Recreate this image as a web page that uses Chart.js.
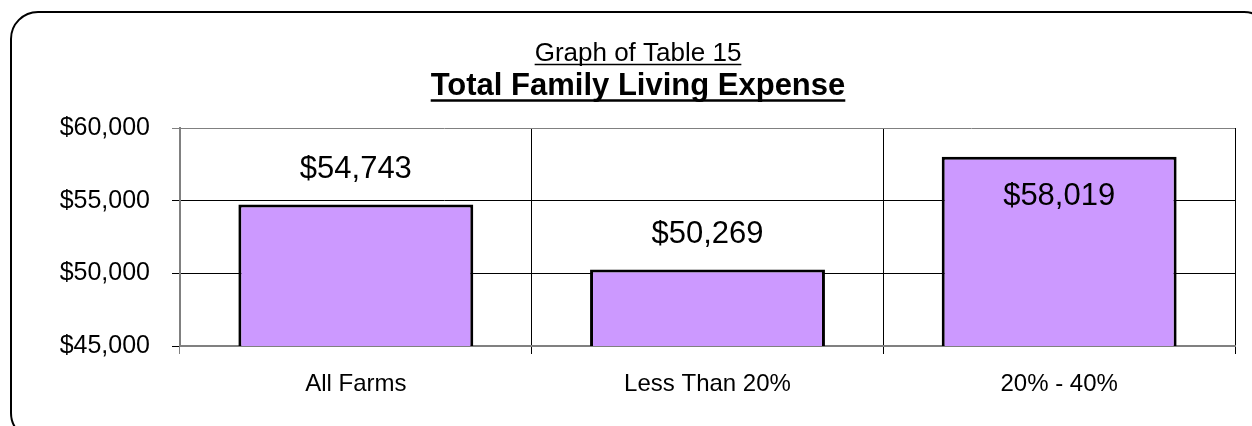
<!DOCTYPE html>
<html>
<head>
<meta charset="utf-8">
<script src="https://cdn.jsdelivr.net/npm/chart.js@4/dist/chart.umd.min.js"></script>
<style>
  html, body { margin: 0; padding: 0; background: #fff; overflow: hidden; }
  #wrap { position: relative; width: 1252px; height: 426px; }
  .frame {
    position: absolute; left: 10px; top: 11px; width: 1262px; height: 430px;
    border: 2px solid #000; border-radius: 28px; box-sizing: border-box;
  }
  canvas { position: absolute; left: 0; top: 0; }
</style>
</head>
<body>
<div id="wrap">
  <div class="frame"></div>
  <canvas id="chart" width="1252" height="426"></canvas>
</div>
<script>
// chart data
const categories = ["All Farms", "Less Than 20%", "20% - 40%"];
const livingExpense = [54743, 50269, 58019];
const yTicks = [45000, 50000, 55000, 60000];
const subTitle = "Graph of Table 15";
const mainTitle = "Total Family Living Expense";

const FONT = "'Liberation Sans', Arial, sans-serif";

function money(v) {
    return "$" + v.toLocaleString("en-US");
}

// titles with underline, like the Excel original
const titlePlugin = {
    id: "underlinedTitles",
    afterDraw(chart) {
        const ctx = chart.ctx;
        const cx = 638;
        ctx.save();
        ctx.fillStyle = "#000";
        ctx.strokeStyle = "#000";
        ctx.textAlign = "center";
        ctx.textBaseline = "alphabetic";

        ctx.font = "26px " + FONT;
        let w = ctx.measureText(subTitle).width;
        ctx.fillText(subTitle, cx, 61);
        ctx.lineWidth = 1.5;
        ctx.beginPath();
        ctx.moveTo(cx - w / 2, 64.5);
        ctx.lineTo(cx + w / 2, 64.5);
        ctx.stroke();

        ctx.font = "bold 31px " + FONT;
        w = ctx.measureText(mainTitle).width;
        ctx.fillText(mainTitle, cx, 95);
        ctx.lineWidth = 2.5;
        ctx.beginPath();
        ctx.moveTo(cx - w / 2, 100.5);
        ctx.lineTo(cx + w / 2, 100.5);
        ctx.stroke();
        ctx.restore();
    }
};

// value labels above the bars (inside when there is no room)
const valueLabels = {
    id: "valueLabels",
    afterDatasetsDraw(chart) {
        const ctx = chart.ctx;
        const area = chart.chartArea;
        const meta = chart.getDatasetMeta(0);
        ctx.save();
        ctx.font = "31px " + FONT;
        ctx.fillStyle = "#000";
        ctx.textAlign = "center";
        ctx.textBaseline = "middle";
        meta.data.forEach((bar, i) => {
            let y = bar.y - 35;
            if (y - 14 < area.top) y = bar.y + 40;
            ctx.fillText(money(livingExpense[i]), bar.x, y);
        });
        ctx.restore();
    }
};

const ctx = document.getElementById("chart").getContext("2d");
new Chart(ctx, {
    type: "bar",
    data: {
        labels: categories,
        datasets: [{
            label: mainTitle,
            data: livingExpense,
            backgroundColor: "#CC99FF",
            borderColor: "#000",
            borderWidth: 3,
            borderSkipped: false,
            categoryPercentage: 1,
            barPercentage: 0.668
        }]
    },
    options: {
        responsive: false,
        animation: false,
        events: [],
        layout: { padding: { top: 128, right: 17, left: 0, bottom: 0 } },
        plugins: {
            legend: { display: false },
            title: { display: false },
            tooltip: { enabled: false }
        },
        scales: {
            x: {
                offset: true,
                grid: {
                    offset: true,
                    color: (c) => c.index === 0 ? "#808080" : "#000",
                    lineWidth: 1,
                    tickLength: 8
                },
                border: { color: "#808080", width: 2 },
                ticks: { color: "#000", padding: 16, font: { family: FONT, size: 24 } },
                afterFit(scale) { scale.height = 80; }
            },
            y: {
                min: yTicks[0],
                max: yTicks[yTicks.length - 1],
                afterBuildTicks(scale) {
                    scale.ticks = yTicks.map(v => ({ value: v }));
                },
                grid: {
                    color: (c) => c.tick && c.tick.value === yTicks[yTicks.length - 1] ? "#808080" : "#000",
                    lineWidth: 1,
                    tickLength: 8
                },
                border: { color: "#808080", width: 2 },
                ticks: {
                    color: "#000",
                    padding: 22,
                    font: { family: FONT, size: 25 },
                    callback: (v) => money(v)
                },
                afterFit(scale) { scale.width = 180; }
            }
        }
    },
    plugins: [titlePlugin, valueLabels]
});
</script>
</body>
</html>
